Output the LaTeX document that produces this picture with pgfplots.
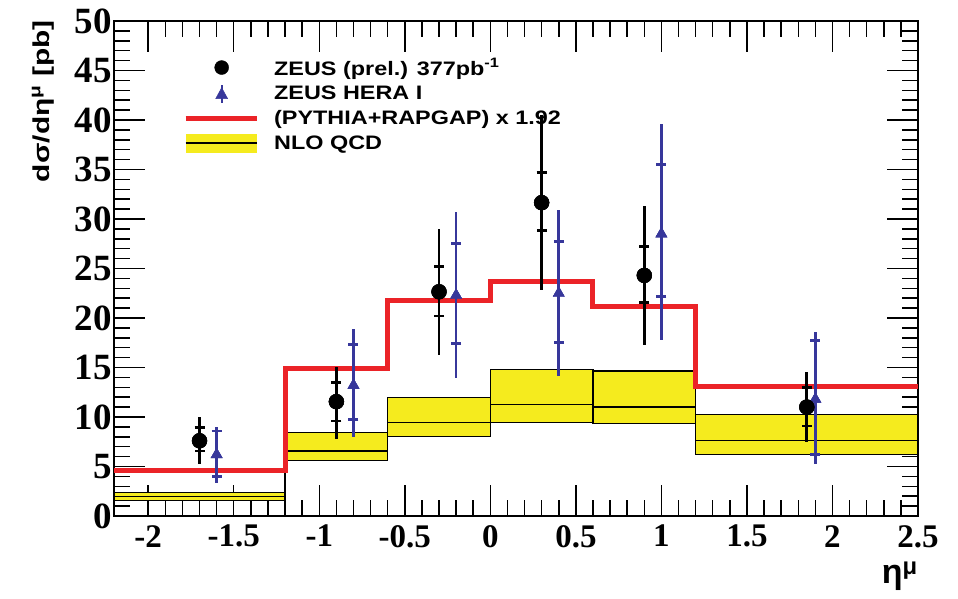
\documentclass[border=0pt]{standalone}
\usepackage{fontspec}
\setmainfont{Liberation Serif}
\newfontfamily\lsans[FakeStretch=1.2]{Liberation Sans}
\newfontfamily\lsansy[FakeStretch=1.3]{Liberation Sans}
\newfontfamily\lsansn{Liberation Sans}
\usepackage{pgfplots}
\usepackage{pgfplotstable}
\pgfplotsset{compat=1.18}
\definecolor{rootred}{RGB}{235,35,40}
\definecolor{rootyellow}{RGB}{245,235,30}
\definecolor{rootblue}{RGB}{55,55,155}

% ZEUS prel.: x y stat+ stat- tot+ tot-
\pgfplotstableread{
x y sp sm tp tm
-1.70 7.6 1.3 1.03 2.4 2.3
-0.90 11.55 1.95 1.95 3.55 3.75
-0.30 22.65 2.55 2.45 6.3 6.35
0.30 31.65 3.05 2.85 8.85 8.85
0.90 24.3 2.9 2.7 7.0 7.0
1.85 11.0 2.0 1.9 3.5 3.5
}\zeusnew
% ZEUS HERA I
\pgfplotstableread{
x y sp sm tp tm
-1.60 6.2 2.4 2.2 2.8 2.9
-0.80 13.2 4.1 3.43 5.7 5.2
-0.20 22.3 5.2 4.9 8.4 8.4
0.40 22.5 5.2 5.0 8.4 8.4
1.00 28.5 7.0 6.3 11.1 10.7
1.90 11.8 5.9 5.6 6.8 6.5
}\heraone

\begin{document}
\begin{tikzpicture}
\path[use as bounding box] (-114pt,-83pt) rectangle (844pt,516pt);
\begin{axis}[
  at={(0pt,0pt)}, anchor=south west,
  scale only axis, width=804pt, height=495pt,
  xmin=-2.2, xmax=2.5, ymin=0, ymax=50,
  xtick={-2,-1.5,-1,-0.5,0,0.5,1,1.5,2,2.5},
  xticklabels={-2,-1.5,-1,-0.5,0,0.5,1,1.5,2,2.5},
  ytick={0,5,10,15,20,25,30,35,40,45,50},
  minor x tick num=4, minor y tick num=4,
  tick align=inside,
  major tick length=31pt, minor tick length=16pt,
  tick style={black, line width=1.5pt},
  axis line style={line width=1.5pt},
  /pgf/number format/assume math mode=true,
  x tick label style={font=\fontsize{33}{33}\selectfont\bfseries, inner sep=9pt},
  y tick label style={font=\fontsize{37}{37}\selectfont\bfseries, inner sep=2pt},
  ylabel={d\kern0.5pt σ/dη\textsuperscript{μ} [pb]},
  ylabel style={at={(axis description cs:-0.0883,1.002)}, anchor=east, rotate=0,
    inner sep=0pt, font=\lsansy\bfseries\fontsize{23}{23}\selectfont},
  xlabel={η\textsuperscript{μ}},
  xlabel style={at={(axis description cs:1.0,-0.093)}, anchor=north east,
    inner sep=0pt, font=\lsansn\bfseries\fontsize{34}{34}\selectfont},
  legend style={draw=none, fill=none, at={(0.0858,0.927)}, anchor=north west,
    inner sep=0pt, row sep=6pt, column sep=14pt,
    font=\lsans\bfseries\fontsize{19.5}{19.5}\selectfont,
    nodes={inner sep=1pt}},
  legend cell align=left,
]
% legend entries
\addlegendimage{legend image code/.code={\path[draw=none,fill=none] (0pt,-9pt) rectangle (71pt,9pt); \fill[black] (36pt,0pt) circle (7pt);}}
\addlegendentry{ZEUS (prel.) 377pb\textsuperscript{-1}}
\addlegendimage{legend image code/.code={\path[draw=none,fill=none] (0pt,-9pt) rectangle (71pt,9pt); \draw[rootblue, line width=1.8pt] (36pt,-9pt)--(36pt,9pt); \fill[rootblue] (30pt,-5pt)--(42pt,-5pt)--(36pt,6pt)--cycle;}}
\addlegendentry{ZEUS HERA I}
\addlegendimage{legend image code/.code={\path[draw=none,fill=none] (0pt,-9pt) rectangle (71pt,9pt); \draw[rootred, line width=5pt] (0pt,0pt)--(71pt,0pt);}}
\addlegendentry{(PYTHIA+RAPGAP) x 1.92}
\addlegendimage{legend image code/.code={\fill[rootyellow, draw=none] (0pt,-9.5pt) rectangle (71pt,9.5pt); \draw[black, line width=1.2pt] (0pt,0pt)--(71pt,0pt);}}
\addlegendentry{NLO QCD}

% NLO QCD band (one box per bin)
\addplot[forget plot, fill=rootyellow, draw=black, line width=1.2pt] coordinates {(-2.2,1.55) (-1.2,1.55) (-1.2,2.35) (-2.2,2.35)} -- cycle;
\addplot[forget plot, fill=rootyellow, draw=black, line width=1.2pt] coordinates {(-1.2,5.6) (-0.6,5.6) (-0.6,8.4) (-1.2,8.4)} -- cycle;
\addplot[forget plot, fill=rootyellow, draw=black, line width=1.2pt] coordinates {(-0.6,8.0) (0,8.0) (0,12.0) (-0.6,12.0)} -- cycle;
\addplot[forget plot, fill=rootyellow, draw=black, line width=1.2pt] coordinates {(0,9.46) (0.6,9.46) (0.6,14.8) (0,14.8)} -- cycle;
\addplot[forget plot, fill=rootyellow, draw=black, line width=1.2pt] coordinates {(0.6,9.36) (1.2,9.36) (1.2,14.65) (0.6,14.65)} -- cycle;
\addplot[forget plot, fill=rootyellow, draw=black, line width=1.2pt] coordinates {(1.2,6.23) (2.5,6.23) (2.5,10.27) (1.2,10.27)} -- cycle;
% NLO central
\addplot[forget plot, const plot, black, line width=1.2pt] coordinates {(-2.2,1.95) (-1.2,6.57) (-0.6,9.46) (0,11.3) (0.6,11.0) (1.2,7.6) (2.5,7.6)};
% PYTHIA+RAPGAP x 1.92
\addplot[forget plot, const plot, rootred, line width=5pt] coordinates {(-2.2,4.55) (-1.2,14.9) (-0.6,21.8) (0,23.7) (0.6,21.2) (1.2,13.1) (2.5,13.1)};

% ZEUS HERA I
\addplot[forget plot, only marks, mark=triangle*, mark size=6.5pt, rootblue,
  error bars/.cd, y dir=both, y explicit, error mark=none,
  error bar style={line width=2.6pt, rootblue}]
  table[x=x, y=y, y error plus=tp, y error minus=tm] {\heraone};
\addplot[forget plot, only marks, mark=triangle*, mark size=6.5pt, rootblue,
  error bars/.cd, y dir=both, y explicit, error mark=-,
  error mark options={rotate=90, mark size=5pt, line width=2.6pt, rootblue},
  error bar style={line width=2.6pt, rootblue}]
  table[x=x, y=y, y error plus=sp, y error minus=sm] {\heraone};

% ZEUS prel.
\addplot[forget plot, only marks, mark=*, mark size=7.5pt, black,
  error bars/.cd, y dir=both, y explicit, error mark=none,
  error bar style={line width=2.8pt, black}]
  table[x=x, y=y, y error plus=tp, y error minus=tm] {\zeusnew};
\addplot[forget plot, only marks, mark=*, mark size=7.5pt, black,
  error bars/.cd, y dir=both, y explicit, error mark=-,
  error mark options={rotate=90, mark size=5pt, line width=2.8pt, black},
  error bar style={line width=2.8pt, black}]
  table[x=x, y=y, y error plus=sp, y error minus=sm] {\zeusnew};
\end{axis}
\end{tikzpicture}
\end{document}
